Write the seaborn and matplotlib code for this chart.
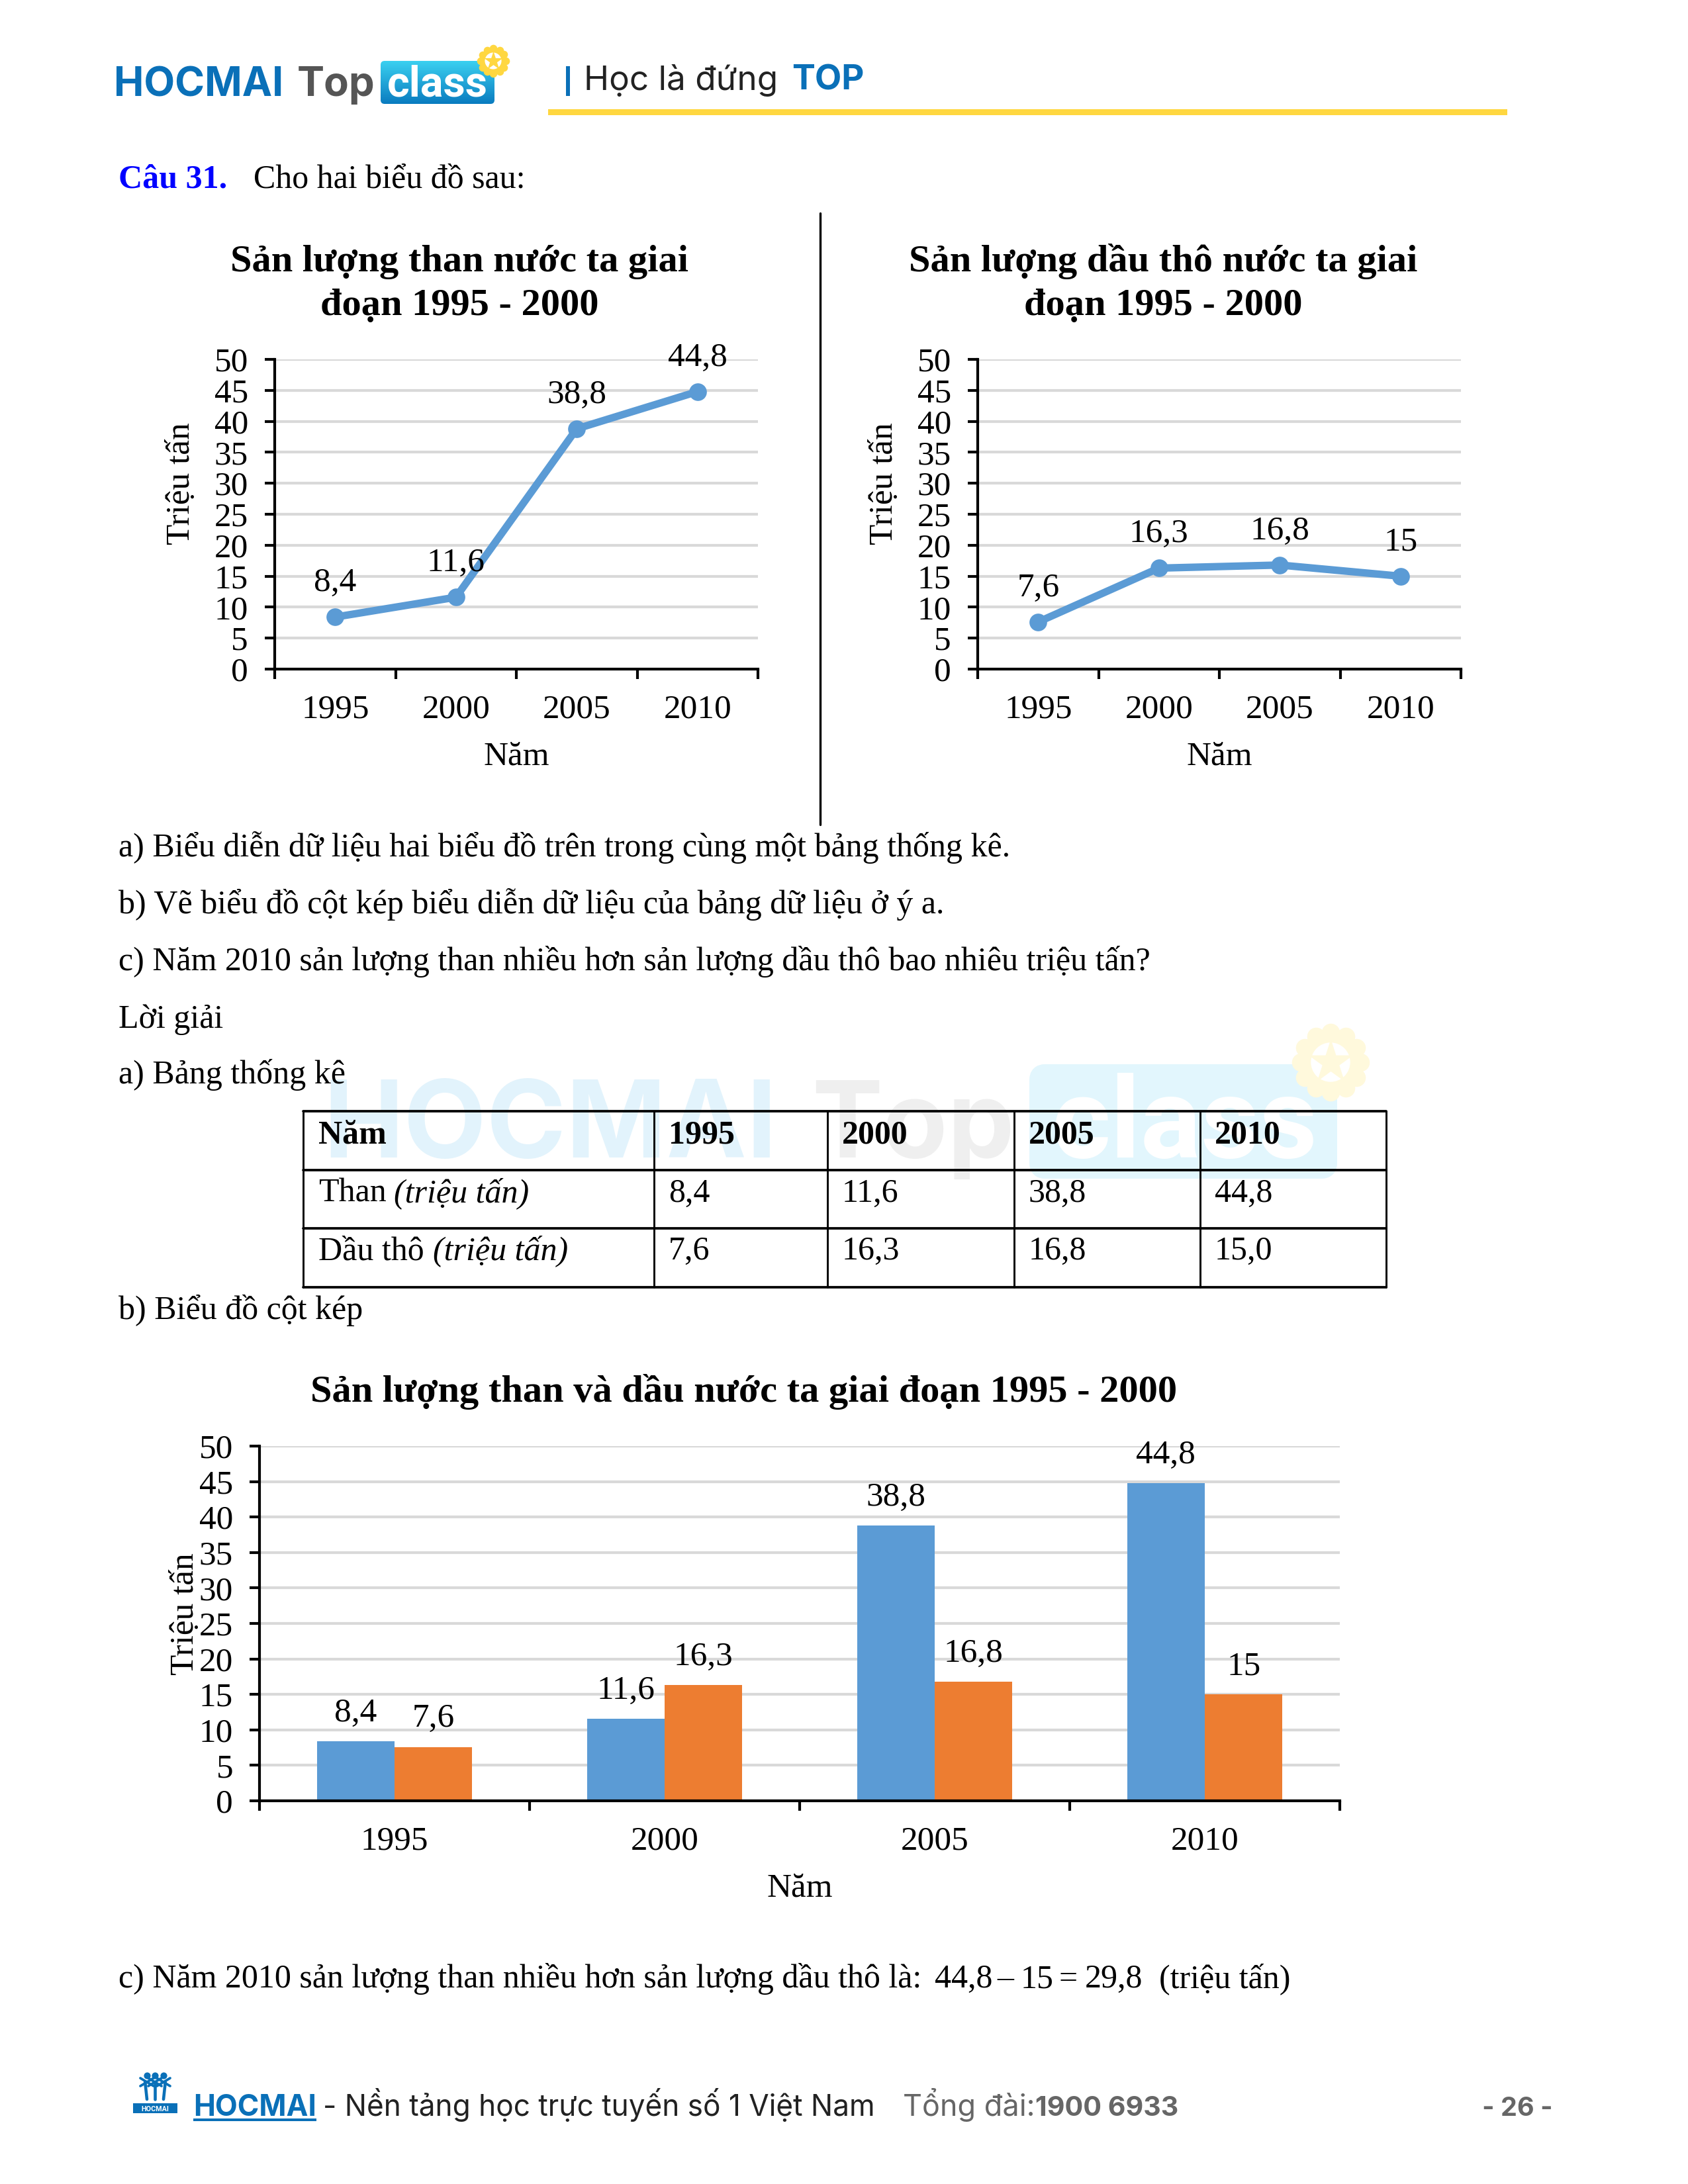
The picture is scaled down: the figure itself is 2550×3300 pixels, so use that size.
import numpy as np
import pandas as pd
import seaborn as sns
import matplotlib.pyplot as plt
from matplotlib.patches import FancyBboxPatch, Circle, Rectangle

years = ["1995", "2000", "2005", "2010"]
than = [8.4, 11.6, 38.8, 44.8]
dau_tho = [7.6, 16.3, 16.8, 15.0]
y_ticks = [0, 5, 10, 15, 20, 25, 30, 35, 40, 45, 50]

title_than = "Sản lượng than nước ta giai\nđoạn 1995 - 2000"
title_dau = "Sản lượng dầu thô nước ta giai\nđoạn 1995 - 2000"
title_both = "Sản lượng than và dầu nước ta giai đoạn 1995 - 2000"

table_than = ["8,4", "11,6", "38,8", "44,8"]
table_dau = ["7,6", "16,3", "16,8", "15,0"]

body_lines = [
    ("a) Biểu diễn dữ liệu hai biểu đồ trên trong cùng một bảng thống kê.", 1294),
    ("b) Vẽ biểu đồ cột kép biểu diễn dữ liệu của bảng dữ liệu ở ý a.", 1380),
    ("c) Năm 2010 sản lượng than nhiều hơn sản lượng dầu thô bao nhiêu triệu tấn?", 1466),
    ("Lời giải", 1553),
    ("a) Bảng thống kê", 1637),
    ("b) Biểu đồ cột kép", 1993),
    ("c) Năm 2010 sản lượng than nhiều hơn sản lượng dầu thô là:", 3003),
]
answer_parts = [("44,8", 1412), ("–", 1506), ("15", 1542), ("=", 1600), ("29,8", 1639), ("(triệu tấn)", 1751)]

BLUE = "#5B9BD5"
ORANGE = "#ED7D31"
GRID = "#D9D9D9"
LOGO_BLUE = "#0A70B8"
SERIF = "Liberation Serif"
W, H = 2550, 3300
AXIS_FONT = 12.3

sns.set_theme(style="white")
plt.rcParams["font.family"] = [SERIF, "DejaVu Sans"]

fig = plt.figure(figsize=(8.5, 11), dpi=300, facecolor="white")
page = fig.add_axes([0, 0, 1, 1], zorder=0)


def chart_axes(left, right, top, bottom):
    return fig.add_axes([left / W, 1 - bottom / H, (right - left) / W, (bottom - top) / H],
                        facecolor="none", zorder=2)


def fmt(v):
    return f"{v:g}".replace(".", ",")


def style_axes(ax, ylabel_pad, xlabel_pad, ylabel_y):
    ax.set_ylim(0, 50)
    ax.set_xlim(-0.5, len(years) - 0.5)
    ax.set_yticks(y_ticks)
    ax.set_xticks(np.arange(len(years) + 1) - 0.5, [""] * (len(years) + 1))
    ax.set_xticks(np.arange(len(years)), years, minor=True)
    ax.grid(axis="y", color=GRID, lw=1.0)
    ax.grid(axis="x", visible=False)
    ax.set_axisbelow(True)
    for side in ["top", "right"]:
        ax.spines[side].set_visible(False)
    for side in ["left", "bottom"]:
        ax.spines[side].set_color("black")
        ax.spines[side].set_linewidth(1.0)
    ax.tick_params(axis="both", which="major", length=3.6, width=1.0, color="black",
                   left=True, bottom=True, labelsize=AXIS_FONT, labelcolor="black")
    ax.tick_params(axis="y", pad=6.0)
    ax.tick_params(axis="x", which="minor", length=0, pad=9.2, labelsize=AXIS_FONT, labelcolor="black")
    ax.set_xlabel("Năm", fontsize=AXIS_FONT, color="black", labelpad=xlabel_pad)
    ax.set_ylabel("Triệu tấn", fontsize=AXIS_FONT, color="black", labelpad=ylabel_pad, y=ylabel_y)


def line_chart(left, right, values, title, title_x):
    ax = chart_axes(left, right, 543, 1011)
    df = pd.DataFrame({"year": years, "value": values})
    sns.lineplot(data=df, x="year", y="value", ax=ax, color=BLUE, lw=2.7, marker="o",
                 markersize=6.4, markeredgewidth=0, sort=False, clip_on=False)
    style_axes(ax, 6.5, 5.8, 0.6)
    ax.set_title(title, x=title_x, y=1.09, fontsize=14, fontweight="bold", color="black",
                 linespacing=1.34)
    for i, v in enumerate(values):
        ax.annotate(fmt(v), (i, v), xytext=(0, 9.4), textcoords="offset points", ha="center",
                    va="baseline", fontsize=AXIS_FONT, color="black", annotation_clip=False)
    return ax


line_chart(415, 1145, than, title_than, 0.382)
line_chart(1477, 2207, dau_tho, title_dau, 0.384)

# double bar chart
bar_ax = chart_axes(392, 2024, 2185, 2721)
bar_df = pd.DataFrame({
    "year": years * 2,
    "value": than + dau_tho,
    "kind": ["Than"] * len(years) + ["Dầu thô"] * len(years),
})
sns.barplot(data=bar_df, x="year", y="value", hue="kind", ax=bar_ax, width=0.575, gap=0,
            palette=[BLUE, ORANGE], saturation=1, legend=False, linewidth=0)
style_axes(bar_ax, -0.5, 5.8, 0.527)
bar_ax.set_title(title_both, x=0.4485, y=1.078, fontsize=14, fontweight="bold", color="black")
for cont, vals in zip(bar_ax.containers, [than, dau_tho]):
    bar_ax.bar_label(cont, labels=[fmt(v) for v in vals], padding=4.6, fontsize=AXIS_FONT, color="black")

# page furniture
page.set_xlim(0, W)
page.set_ylim(H, 0)
page.axis("off")


def put(x, y, s, size=12, color="black", weight="normal", style="normal", family=SERIF, ha="left", z=3):
    return page.text(x, y, s, fontsize=size, color=color, fontweight=weight, fontstyle=style,
                     family=family, ha=ha, va="baseline", zorder=z)


def gear(cx, cy, r, color, inner):
    angles = np.deg2rad(np.arange(0, 360, 30))
    page.scatter(cx + r * np.cos(angles), cy + r * np.sin(angles), s=(r * 0.06) ** 2 * 6,
                 color=color, linewidths=0, zorder=2)
    page.add_patch(Circle((cx, cy), r, color=color, lw=0, zorder=2))
    page.add_patch(Circle((cx, cy), r * 0.66, color=inner, lw=0, zorder=2))
    page.scatter([cx], [cy], marker="*", s=(r * 0.36) ** 2 * 1.1, color=color, linewidths=0, zorder=2)


# watermark
put(488, 1749, "HOCMAI", size=39, color="#E2F3FC", weight="bold", family="Inter", z=1)
put(1226, 1749, "Top", size=38.5, color="#EFEFEF", weight="bold", family="Inter", z=1)
page.add_patch(FancyBboxPatch((1567, 1620), 441, 149, boxstyle="round,pad=0,rounding_size=12",
                              mutation_aspect=1, fc="#E2F6FD", ec="#E2F6FD", lw=24 / 300 * 72, zorder=1))
put(1790, 1749, "class", size=41, color="white", weight="bold", family="Roboto", ha="center", z=1)
gear(2010, 1605, 45, "#FFF9DC", "#FFFFFF")

# header logo
put(172, 145, "HOCMAI", size=14.6, color=LOGO_BLUE, weight="bold", family="Inter")
put(449, 145, "Top", size=14.8, color="#555555", weight="bold", family="Inter")
gradient = np.linspace(0, 1, 64).reshape(-1, 1)
cmap = sns.blend_palette(["#3AD0F0", "#0A7CC0"], as_cmap=True)
img = page.imshow(gradient, extent=(575, 747, 157, 92), cmap=cmap, aspect="auto", zorder=1.5)
clip_box = FancyBboxPatch((579, 96), 164, 57, boxstyle="round,pad=4,rounding_size=6",
                          fc="none", ec="none", transform=page.transData)
page.add_patch(clip_box)
img.set_clip_path(clip_box)
page.set_xlim(0, W)
page.set_ylim(H, 0)
put(661, 145, "class", size=15.5, color="white", weight="bold", family="Roboto", ha="center")
gear(745, 92, 19, "#FFD740", "#FFFFFF")

page.add_patch(Rectangle((855, 100), 6, 45, color=LOGO_BLUE, lw=0))
put(882, 136, "Học là đứng", size=12.3, family="Inter", color="#222222")
put(1196, 136, "TOP", size=12.6, family="Inter", color=LOGO_BLUE, weight="bold")
page.add_patch(Rectangle((828, 165), 1449, 9, color="#FFD740", lw=0))

# question heading
put(179, 283, "Câu 31.", size=12, color="#0000FF", weight="bold")
put(383, 283, "Cho hai biểu đồ sau:", size=12)
page.plot([1239, 1239], [322, 1246], color="black", lw=0.8, zorder=3)

for line, y in body_lines:
    put(179, y, line, size=12)
for part, x in answer_parts:
    put(x, 3003, part, size=12)

# table
col_x = [458, 988, 1250, 1532, 1813, 2094]
row_y = [1679, 1768, 1856, 1945]
for x in col_x:
    page.plot([x, x], [row_y[0], row_y[-1]], color="black", lw=0.7, zorder=3)
for y in row_y:
    page.plot([col_x[0], col_x[-1]], [y, y], color="black", lw=0.9, zorder=3)

put(481, 1727, "Năm", weight="bold")
put(481, 1816, "Than")
put(595, 1816, "(triệu tấn)", style="italic")
put(481, 1903, "Dầu thô")
put(654, 1903, "(triệu tấn)", style="italic")
for i in range(len(years)):
    x = col_x[i + 1] + 22
    put(x, 1727, years[i], weight="bold")
    put(x, 1816, table_than[i])
    put(x, 1903, table_dau[i])

# footer
page.add_patch(Rectangle((201, 3178), 67, 15, color=LOGO_BLUE, lw=0))
put(234.5, 3190, "HOCMAI", size=2.6, color="white", weight="bold", family="Roboto", ha="center")
for x0, dx in [(222, -14), (234, 0), (247, 14)]:
    page.plot([x0, x0 + dx * 0.2], [3172, 3146], color=LOGO_BLUE, lw=1.1, zorder=3)
    page.plot([x0 - 10, x0 + 10], [3140, 3152], color=LOGO_BLUE, lw=0.9, zorder=3)
    page.plot([x0 + 10, x0 - 10], [3140, 3152], color=LOGO_BLUE, lw=0.9, zorder=3)
    page.scatter([x0], [3136], s=6, color=LOGO_BLUE, linewidths=0, zorder=3)

put(292, 3197, "HOCMAI", size=10.6, color=LOGO_BLUE, weight="bold", family="Inter")
page.add_patch(Rectangle((292, 3201), 186, 4, color=LOGO_BLUE, lw=0))
put(488, 3197, "- Nền tảng học trực tuyến số 1 Việt Nam", size=10.6, family="Inter", color="#222222")
put(1364, 3197, "Tổng đài:", size=10.8, family="Inter", color="#666666")
put(1564, 3197, "1900 6933", size=9.9, family="Inter", color="#666666", weight="bold")
put(2239, 3197, "- 26 -", size=9.5, family="Inter", color="#666666", weight="bold")

fig.savefig("out.png", dpi=300)
